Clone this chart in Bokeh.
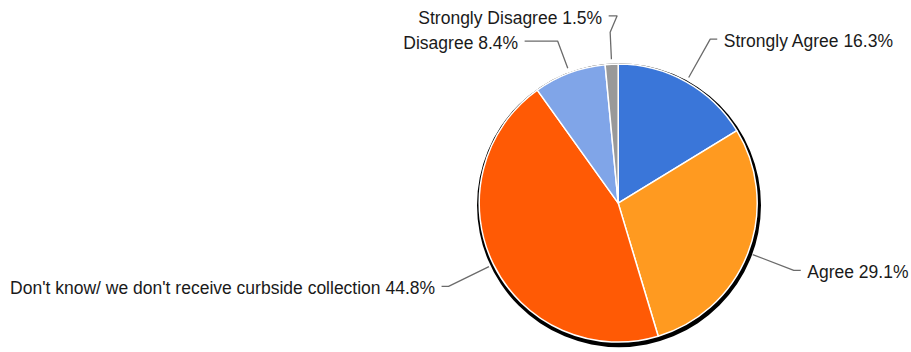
import math

from bokeh.core.properties import value
from bokeh.embed import file_html
from bokeh.models import ColumnDataSource, Range1d
from bokeh.plotting import figure
from bokeh.resources import INLINE

# Survey answers, clockwise from 12 o'clock
categories = [
    "Strongly Agree",
    "Agree",
    "Don't know/ we don't receive curbside collection",
    "Disagree",
    "Strongly Disagree",
]
shares = [16.3, 29.1, 44.8, 8.4, 1.5]
colors = ["#3a76d9", "#ff9a20", "#ff5a05", "#80a5e8", "#999999"]

# leader-line routing per slice: elbow distance from centre, length of the
# horizontal run, and an optional extra jog (dx, dy) after the elbow
elbow_r = [188, 188, 189, 173, 171]
run_len = [7, 7, 7, 33, 8.5]
jog = [None, None, None, None, (7, 16.5)]

W, H = 911, 352
CX, CY = 617.7, H - 202.6
R = 139

total = sum(shares)
starts, ends, mids = [], [], []
acc = 0.0
for s in shares:
    a0 = acc / total * 2 * math.pi
    acc += s
    a1 = acc / total * 2 * math.pi
    starts.append(math.pi / 2 - a0)
    ends.append(math.pi / 2 - a1)
    mids.append((a0 + a1) / 2)


def polar(theta, rr):
    return CX + rr * math.sin(theta), CY + rr * math.cos(theta)


p = figure(
    width=W, height=H,
    x_range=Range1d(0, W), y_range=Range1d(0, H),
    output_backend="svg", toolbar_location=None,
    x_axis_location=None, y_axis_location=None,
    min_border=0, outline_line_color=None,
    background_fill_color="white", border_fill_color="white",
)
p.grid.visible = False

# drop shadow behind the pie
p.circle(x=CX + 0.8, y=CY - 2.1, radius=142, fill_color="black", line_color=None)

src = ColumnDataSource(dict(
    start=starts, end=ends, color=colors, cat=categories, share=shares,
))
p.wedge(x=CX, y=CY, radius=R, start_angle="start", end_angle="end",
        direction="clock", fill_color="color", line_color="white",
        line_width=1.5, source=src)

line_xs, line_ys = [], []
lx, ly, ltxt = [], [], []
rx, ry, rtxt = [], [], []
for i, th in enumerate(mids):
    sx, sy = polar(th, R + 5)
    ex, ey = polar(th, elbow_r[i])
    xs, ys = [sx, ex], [sy, ey]
    side = 1 if math.sin(th) > 0 else -1
    if jog[i] is not None:
        ex, ey = ex + jog[i][0], ey + jog[i][1]
        xs.append(ex)
        ys.append(ey)
        endx = ex - run_len[i]
        side = -1
        ty = ey - 2.3
    else:
        endx = ex + side * run_len[i]
        ty = ey - 1.5
    xs.append(endx)
    ys.append(ey)
    line_xs.append(xs)
    line_ys.append(ys)
    label = f"{categories[i]} {shares[i]}%"
    if side > 0:
        rx.append(endx + 6.5)
        ry.append(ty)
        rtxt.append(label)
    else:
        lx.append(endx - 6.5)
        ly.append(ty)
        ltxt.append(label)

p.multi_line(xs=line_xs, ys=line_ys, line_color="#6b6b6b", line_width=1.3)

font = dict(text_font=value("Liberation Sans"), text_font_size="17.5px",
            text_color="#1a1a1a", text_baseline="middle")
p.text(x=rx, y=ry, text=rtxt, text_align="left", **font)
p.text(x=lx, y=ly, text=ltxt, text_align="right", **font)

open("out.html", "w").write(file_html(p, INLINE))
